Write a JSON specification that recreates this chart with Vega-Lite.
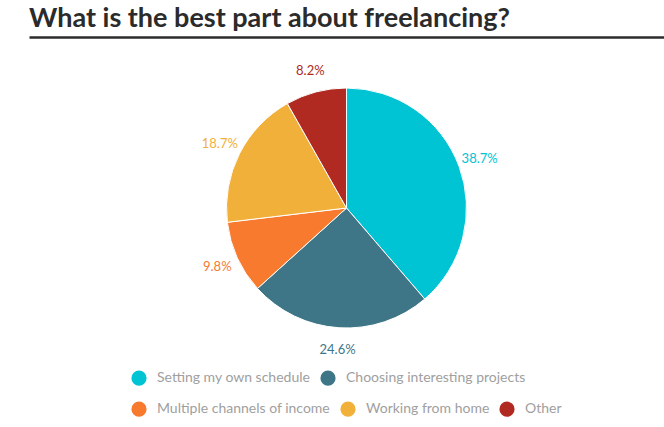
{
  "$schema": "https://vega.github.io/schema/vega-lite/v6.json",
  "description": "Pie chart: what is the best part about freelancing?",
  "width": 635,
  "height": 290,
  "padding": {"left": 29, "top": 5, "right": 0, "bottom": 5},
  "title": {
    "text": "What is the best part about freelancing?",
    "anchor": "start",
    "font": "Lato",
    "fontSize": 27,
    "fontWeight": "bold",
    "color": "#2b2b2b",
    "offset": 4
  },
  "data": {
    "values": [
      {"answer": "Setting my own schedule", "share": 0.387, "rank": 1},
      {"answer": "Choosing interesting projects", "share": 0.246, "rank": 2},
      {"answer": "Multiple channels of income", "share": 0.098, "rank": 3},
      {"answer": "Working from home", "share": 0.187, "rank": 4},
      {"answer": "Other", "share": 0.082, "rank": 5}
    ]
  },
  "layer": [
    {
      "mark": {"type": "point", "opacity": 0},
      "encoding": {
        "x": {
          "field": "share",
          "type": "quantitative",
          "axis": {
            "orient": "top",
            "offset": 26,
            "labels": false,
            "ticks": false,
            "grid": false,
            "title": null,
            "domainColor": "#2b2b2b",
            "domainWidth": 2.5
          }
        }
      }
    },
    {
      "mark": {"type": "arc", "outerRadius": 120, "stroke": "white", "strokeWidth": 1},
      "encoding": {
        "theta": {"field": "share", "type": "quantitative", "stack": true},
        "order": {"field": "rank", "type": "ordinal"},
        "color": {
          "field": "answer",
          "type": "nominal",
          "scale": {
            "domain": ["Setting my own schedule", "Choosing interesting projects", "Multiple channels of income", "Working from home", "Other"],
            "range": ["#00c4d4", "#3f7687", "#f77a2f", "#f1b039", "#b02a22"]
          },
          "legend": {
            "values": ["Setting my own schedule", "Choosing interesting projects"],
            "title": null,
            "orient": "bottom",
            "direction": "horizontal"
          }
        }
      }
    },
    {
      "mark": {
        "type": "text",
        "radius": 142,
        "font": "Lato",
        "fontSize": 13
      },
      "encoding": {
        "theta": {"field": "share", "type": "quantitative", "stack": true},
        "order": {"field": "rank", "type": "ordinal"},
        "text": {"field": "share", "type": "quantitative", "format": ".1%"},
        "fill": {
          "field": "answer",
          "type": "nominal",
          "scale": {
            "domain": ["Multiple channels of income", "Working from home", "Other", "Setting my own schedule", "Choosing interesting projects"],
            "range": ["#f77a2f", "#f1b039", "#b02a22", "#00c4d4", "#3f7687"]
          },
          "legend": {
            "values": ["Multiple channels of income", "Working from home", "Other"],
            "title": null,
            "orient": "bottom",
            "direction": "horizontal",
            "symbolType": "circle"
          }
        }
      }
    }
  ],
  "config": {
    "view": {"stroke": null},
    "legend": {
      "labelFont": "Lato",
      "labelFontSize": 14,
      "labelColor": "#a0a0a0",
      "labelLimit": 300,
      "symbolSize": 230,
      "symbolType": "circle",
      "symbolStrokeWidth": 0,
      "symbolOpacity": 1,
      "labelOffset": 10,
      "columnPadding": 9,
      "offset": 17,
      "layout": {"bottom": {"anchor": "middle", "direction": "vertical", "margin": 15}}
    }
  }
}
